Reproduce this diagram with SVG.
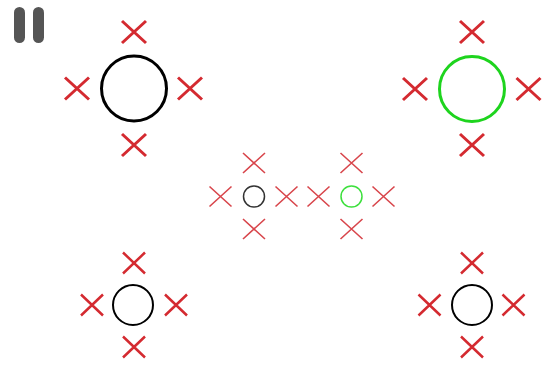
<svg xmlns="http://www.w3.org/2000/svg" width="550" height="365" viewBox="0 0 550 365">
<defs>
<style>
.x{stroke:#d42a30;fill:none;stroke-linecap:butt}
.xl{stroke-width:3}
.xm{stroke-width:2.5}
.xs{stroke-width:1.6;stroke:#d8454b}
.c{fill:none}
</style>
<path id="xL" d="M-12,-11L12,11M12,-11L-12,11"/>
<path id="xM" d="M-11,-10.5L11,10.5M11,-10.5L-11,10.5"/>
<path id="xS" d="M-11,-10L11,10M11,-10L-11,10"/>
</defs>
<rect width="550" height="365" fill="#fff"/>
<g id="pause" fill="#555">
<rect x="14" y="7" width="11" height="36" rx="5.5"/>
<rect x="33" y="7" width="11" height="36" rx="5.5"/>
</g>
<g id="topLeft">
<circle class="c" cx="134" cy="88.5" r="32.5" stroke="#000" stroke-width="3"/>
<g class="x xl">
<use href="#xL" x="134" y="32"/><use href="#xL" x="77" y="88.5"/><use href="#xL" x="190" y="88.5"/><use href="#xL" x="134" y="145"/>
</g>
</g>
<g id="topRight">
<circle class="c" cx="472" cy="89" r="32.5" stroke="#1ed41e" stroke-width="3"/>
<g class="x xl">
<use href="#xL" x="472" y="32"/><use href="#xL" x="415" y="89"/><use href="#xL" x="528.5" y="89"/><use href="#xL" x="472" y="145"/>
</g>
</g>
<g id="midLeft">
<circle class="c" cx="254" cy="196.5" r="10.5" stroke="#333" stroke-width="1.5"/>
<g class="x xs">
<use href="#xS" x="254" y="163"/><use href="#xS" x="220.5" y="196.5"/><use href="#xS" x="286.5" y="196.5"/><use href="#xS" x="254" y="229"/>
</g>
</g>
<g id="midRight">
<circle class="c" cx="351.5" cy="196.5" r="10.5" stroke="#3de03d" stroke-width="1.5"/>
<g class="x xs">
<use href="#xS" x="351.5" y="163"/><use href="#xS" x="318.5" y="196.5"/><use href="#xS" x="383.5" y="196.5"/><use href="#xS" x="351.5" y="229"/>
</g>
</g>
<g id="bottomLeft">
<circle class="c" cx="133" cy="305" r="20" stroke="#000" stroke-width="2"/>
<g class="x xm">
<use href="#xM" x="134" y="263"/><use href="#xM" x="92" y="305"/><use href="#xM" x="176" y="305"/><use href="#xM" x="134" y="347"/>
</g>
</g>
<g id="bottomRight">
<circle class="c" cx="472" cy="305" r="20" stroke="#000" stroke-width="2"/>
<g class="x xm">
<use href="#xM" x="472" y="263"/><use href="#xM" x="429.5" y="305"/><use href="#xM" x="513.5" y="305"/><use href="#xM" x="472" y="347"/>
</g>
</g>
<g id="connectors"/>
</svg>
